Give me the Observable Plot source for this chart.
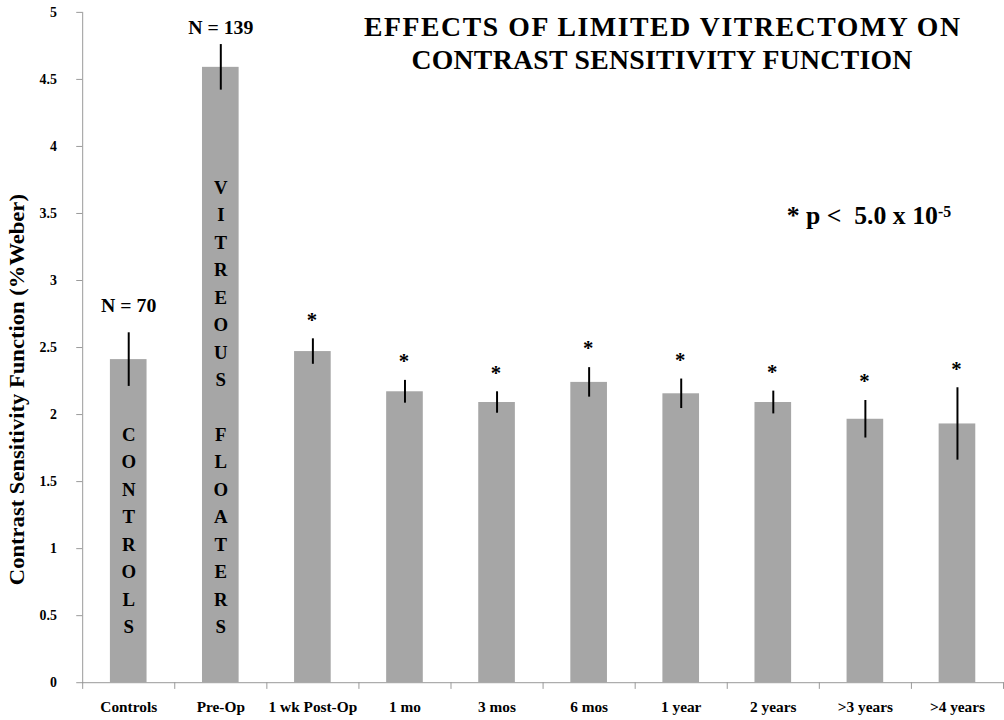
<!DOCTYPE html>
<html>
<head>
<meta charset="utf-8">
<script src="https://cdn.jsdelivr.net/npm/d3@7"></script>
<script src="https://cdn.jsdelivr.net/npm/@observablehq/plot@0.6"></script>
<style>
  html, body { margin: 0; padding: 0; background: #fff; overflow: hidden; }
  #wrap { width: 1004px; height: 720px; overflow: hidden; position: relative; }
</style>
</head>
<body>
<div id="wrap"></div>
<script>
const categories = ["Controls", "Pre-Op", "1 wk Post-Op", "1 mo", "3 mos", "6 mos", "1 year", "2 years", ">3 years", ">4 years"];
const means = [2.41, 4.59, 2.47, 2.17, 2.09, 2.24, 2.155, 2.09, 1.965, 1.93];
const errors = [0.20, 0.17, 0.095, 0.085, 0.08, 0.11, 0.11, 0.085, 0.14, 0.27];
const significant = [false, false, true, true, true, true, true, true, true, true];
const yTicks = [0, 0.5, 1, 1.5, 2, 2.5, 3, 3.5, 4, 4.5, 5];
const groupLabels = ["CONTROLS", "VITREOUS FLOATERS"];
const nLabels = ["N = 70", "N = 139"];
const titleLines = ["EFFECTS OF LIMITED VITRECTOMY ON", "CONTRAST SENSITIVITY FUNCTION"];
const yLabel = "Contrast Sensitivity Function (%Weber)";
const pText = "* p <  5.0 x 10";
const pExp = "-5";

const data = categories.map((c, i) => ({cat: c, mean: means[i], err: errors[i], sig: significant[i]}));
const font = "'Liberation Serif', 'Times New Roman', serif";
const stackText = s => s.split("").join("\n");

const plot = Plot.plot({
  width: 1014,
  height: 720,
  marginLeft: 83,
  marginRight: 0,
  marginTop: 12,
  marginBottom: 31,
  style: {fontFamily: font, background: "#fff", overflow: "visible"},
  x: {domain: categories, paddingInner: 0.6, paddingOuter: 0.3, label: null},
  y: {domain: [0, 5], label: null},
  marks: [
    Plot.barY(data, {x: "cat", y: "mean", fill: "#a6a6a6"}),
    Plot.ruleX(data, {x: "cat", y1: d => d.mean - d.err, y2: d => d.mean + d.err, stroke: "#000", strokeWidth: 2}),
    Plot.text(data.filter(d => d.sig), {x: "cat", y: d => d.mean + d.err, text: () => "*", fontSize: 21, fontWeight: "bold", dy: -19, dx: -1, fill: "#000"}),
    Plot.text([data[0]], {x: "cat", y: d => d.mean + d.err, text: () => nLabels[0], fontSize: 20, fontWeight: "bold", dy: -27, fill: "#000"}),
    Plot.text([data[1]], {x: "cat", y: d => d.mean + d.err, text: () => nLabels[1], fontSize: 20, fontWeight: "bold", dy: -17, fill: "#000"}),
    Plot.text([data[0], data[1]], {x: "cat", y: 0, text: (d, i) => stackText(groupLabels[i]), fontSize: 19, fontWeight: "bold", lineHeight: 1.46, lineAnchor: "bottom", dy: -50, fill: "#000"}),
    Plot.frame({anchor: "left", stroke: "#999"}),
    Plot.ruleY([0], {stroke: "#999"}),
    Plot.ruleX(categories, {x: d => d, y1: 0, y2: -0.05, dx: -46.5, stroke: "#999"}),
    Plot.ruleX([categories[categories.length - 1]], {x: d => d, y1: 0, y2: -0.05, dx: 46.5, stroke: "#999"}),
    Plot.axisY({ticks: yTicks, tickFormat: d => String(d), tickSize: 6, tickPadding: 20, fontSize: 14, fontWeight: "bold", stroke: "#999", label: null}),
    Plot.axisX({tickSize: 0, tickPadding: 19, fontSize: 15.5, fontWeight: "bold", label: null}),
    Plot.text([yLabel], {frameAnchor: "left", rotate: -90, dx: -66, dy: 240, textAnchor: "start", fontSize: 21, fontWeight: "bold", fill: "#000", className: "ylab"}),
    Plot.text([titleLines[0]], {frameAnchor: "top-left", dx: 284, dy: 4, textAnchor: "start", fontSize: 28, fontWeight: "bold", fill: "#000", className: "title1"}),
    Plot.text([titleLines[1]], {frameAnchor: "top-left", dx: 332, dy: 37, textAnchor: "start", fontSize: 28, fontWeight: "bold", fill: "#000", className: "title2"}),
    Plot.text([pText], {frameAnchor: "top-left", dx: 711, dy: 214, lineAnchor: "bottom", textAnchor: "start", fontSize: 26, fontWeight: "bold", fill: "#000", className: "pval"})
  ]
});
document.getElementById("wrap").appendChild(plot);

// stretch texts to the reference's measured lengths and add the superscript
const svg = d3.select(plot);
svg.selectAll(".ylab text").attr("textLength", 395).attr("lengthAdjust", "spacingAndGlyphs");
svg.selectAll(".title1 text").attr("textLength", 602).attr("lengthAdjust", "spacing");
svg.selectAll(".title2 text").attr("textLength", 506).attr("lengthAdjust", "spacing");
svg.selectAll(".pval text").append("tspan").attr("dy", "-0.45em").attr("font-size", 16).text(pExp);
</script>
</body>
</html>
